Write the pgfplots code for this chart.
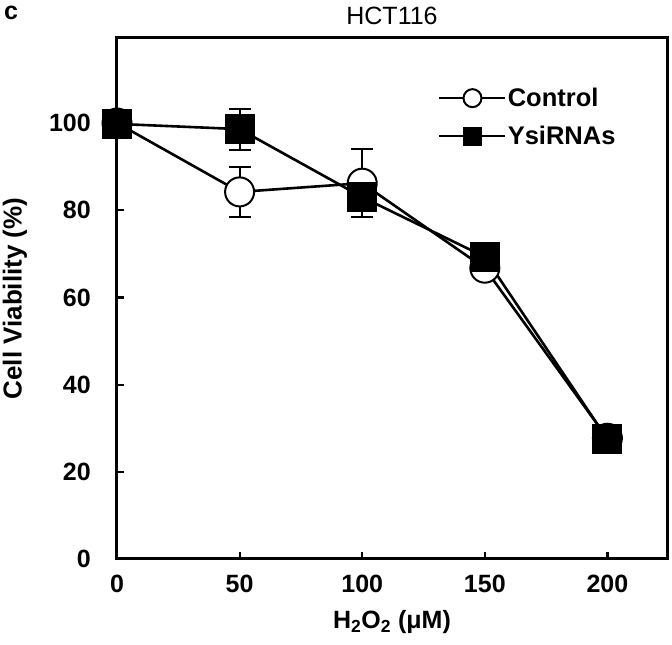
\documentclass[border=0pt]{standalone}
\usepackage{pgfplots}
\pgfplotsset{compat=1.18}
\usepackage{fontspec}
\setmainfont{Liberation Sans}
\begin{document}
\begin{tikzpicture}
\begin{axis}[
  name=ax,
  scale only axis,
  width=550pt, height=521pt,
  xmin=0, xmax=224.3, ymin=0, ymax=119.5,
  xtick={0,50,100,150,200},
  ytick={0,20,40,60,80,100},
  xtick pos=bottom, ytick pos=left,
  tick align=inside,
  major tick length=7pt,
  axis line style={line width=3pt},
  every tick/.style={black, line width=2.2pt},
  /pgf/number format/assume math mode=true,
  ticklabel style={font=\bfseries\fontsize{25}{25}\selectfont, inner sep=0pt},
  xticklabel style={anchor=north, yshift=-16pt},
  yticklabel style={anchor=east, xshift=-26pt},
  xlabel={\bfseries H\textsubscript{2}O\textsubscript{2} (μM)},
  xlabel style={font=\fontsize{25}{25}\selectfont, at={(rel axis cs:0.5,0)}, anchor=center, yshift=-63pt},
  ylabel={\bfseries Cell Viability (\%)},
  ylabel style={font=\fontsize{26}{26}\selectfont, at={(rel axis cs:0,0.5)}, anchor=center, yshift=102pt},
  legend style={draw=none, fill=none, at={(rel axis cs:0.5836,0.906)}, anchor=north west,
    font=\bfseries\fontsize{25.5}{25.5}\selectfont, inner xsep=0pt, inner ysep=0pt,
    row sep=16pt, nodes={inner sep=1pt}},
  legend cell align=left,
  legend image code/.code={\draw[#1, mark size=9pt, mark repeat=2, mark phase=2] plot coordinates {(0pt,0pt) (33pt,0pt) (66pt,0pt)};},
]
\addplot[black, line width=2.6pt, mark=*, mark size=14.5pt, mark options={fill=white, draw=black, line width=2pt},
  error bars/.cd, y dir=both, y explicit,
  error bar style={line width=2.2pt, black},
  error mark options={rotate=90, mark size=11pt, line width=2.2pt, black}]
  coordinates {
  (0,100) +- (0,0)
  (50,84.2) +- (0,5.7)
  (100,86.2) +- (0,7.8)
  (150,66.7) +- (0,1)
  (200,27.7) +- (0,1)
};
\addlegendentry{Control}
\addplot[black, line width=2.6pt, mark=square*, mark size=14.5pt, mark options={fill=black, draw=black, line width=1pt},
  error bars/.cd, y dir=both, y explicit,
  error bar style={line width=2.2pt, black},
  error mark options={rotate=90, mark size=11pt, line width=2.2pt, black}]
  coordinates {
  (0,99.8) +- (0,0)
  (50,98.6) +- (0,4.7)
  (100,83) +- (0,4.6)
  (150,69.3) +- (0,1)
  (200,27.5) +- (0,1)
};
\addlegendentry{YsiRNAs}
\end{axis}
\node[font=\fontsize{25}{25}\selectfont] at ([yshift=22pt]ax.north) {HCT116};
\node[font=\bfseries\fontsize{25}{25}\selectfont] at ([xshift=-106pt,yshift=25pt]ax.north west) {c};
\pgfresetboundingbox
\path[use as bounding box] ([xshift=-117pt,yshift=-86pt]ax.south west) rectangle ([xshift=5pt,yshift=38pt]ax.north east);
\end{tikzpicture}
\end{document}
